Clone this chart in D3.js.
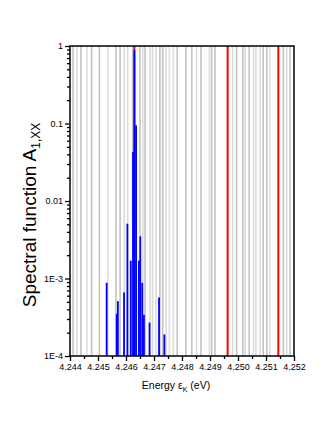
<!DOCTYPE html>
<html>
<head>
<meta charset="utf-8">
<script src="https://cdn.jsdelivr.net/npm/d3@7"></script>
<style>
  body { margin: 0; background: #fff; }
  svg text { font-family: "Liberation Sans", Arial, sans-serif; }
</style>
</head>
<body>
<div id="chart"></div>
<script>
// eigenvalue positions (eV), drawn as vertical grey lines
var darkLevels = [4.24411, 4.24439, 4.24477, 4.24505, 4.24564, 4.24579, 4.24624, 4.24650,
  4.24668, 4.24721, 4.24731, 4.24783, 4.24814, 4.24835, 4.24868, 4.24906, 4.24918,
  4.24995, 4.25017, 4.25040, 4.25090, 4.25103, 4.25162, 4.25186];
var lightLevels = [4.24425, 4.24460, 4.24535, 4.24594, 4.24606, 4.24660, 4.24686, 4.24695,
  4.24707, 4.24743, 4.24755, 4.24769, 4.24852, 4.24898, 4.24981, 4.25025, 4.25055,
  4.25064, 4.25079, 4.25114, 4.25174];
// highlighted levels (red)
var redLevels = [4.24630, 4.24963, 4.25144];

// spectral function peaks
var peakEnergy = [4.24531, 4.24567, 4.24571, 4.24593, 4.24605, 4.24617, 4.24625, 4.24630,
  4.24636, 4.24646, 4.24651, 4.24658, 4.24664, 4.24684, 4.24718, 4.24737];
var peakValue = [8.8e-4, 3.5e-4, 5.1e-4, 6.6e-4, 5.1e-3, 1.7e-3, 0.043, 0.88,
  0.095, 1.7e-3, 3.5e-3, 8.8e-4, 3.4e-4, 2.7e-4, 5.7e-4, 1.9e-4];

var xTicks = [4.244, 4.245, 4.246, 4.247, 4.248, 4.249, 4.250, 4.251, 4.252];
var yTicks = [1e-4, 1e-3, 0.01, 0.1, 1];
var yTickLabels = ["1E-4", "1E-3", "0.01", "0.1", "1"];

var W = 332, H = 435;
var margin = {top: 46, right: 38, bottom: 79, left: 70},
    width = W - margin.left - margin.right,
    height = H - margin.top - margin.bottom;

var svg = d3.select("#chart")
  .append("svg")
    .attr("width", W)
    .attr("height", H)
  .append("g")
    .attr("transform", "translate(" + margin.left + "," + margin.top + ")");

var x = d3.scaleLinear().domain([4.244, 4.252]).range([0, width]);
var y = d3.scaleLog().domain([1e-4, 1]).range([height, 0]);

// grey level lines
svg.append("g").selectAll("line")
  .data(lightLevels)
  .enter().append("line")
    .attr("x1", function(d) { return x(d); })
    .attr("x2", function(d) { return x(d); })
    .attr("y1", 0).attr("y2", height)
    .style("stroke", "#dcdcdc")
    .style("stroke-width", 1.6);

svg.append("g").selectAll("line")
  .data(darkLevels)
  .enter().append("line")
    .attr("x1", function(d) { return x(d); })
    .attr("x2", function(d) { return x(d); })
    .attr("y1", 0).attr("y2", height)
    .style("stroke", "#c3c3c3")
    .style("stroke-width", 1.6);

svg.append("g").selectAll("line")
  .data(redLevels)
  .enter().append("line")
    .attr("x1", function(d) { return x(d); })
    .attr("x2", function(d) { return x(d); })
    .attr("y1", 0).attr("y2", height)
    .style("stroke", "#ff0000")
    .style("stroke-width", 2);

// blue peaks
var peaks = peakEnergy.map(function(e, i) { return {e: e, v: peakValue[i]}; });
svg.append("g").selectAll("rect")
  .data(peaks)
  .enter().append("rect")
    .attr("x", function(d) { return x(d.e) - 0.9; })
    .attr("width", 1.8)
    .attr("y", function(d) { return y(d.v); })
    .attr("height", function(d) { return height - y(d.v); })
    .style("fill", "#0000ff");

// frame
svg.append("rect")
  .attr("width", width).attr("height", height)
  .style("fill", "none")
  .style("stroke", "#000")
  .style("stroke-width", 1.5);

// x axis
var xMinor = d3.range(8).map(function(i) { return 4.2445 + i * 0.001; });
svg.append("g")
  .attr("transform", "translate(0," + height + ")")
  .call(d3.axisBottom(x).tickValues(xMinor).tickSize(3).tickFormat(""))
  .call(function(g) { g.select(".domain").remove(); });

var xAxis = svg.append("g")
  .attr("transform", "translate(0," + height + ")")
  .call(d3.axisBottom(x).tickValues(xTicks).tickSize(5).tickPadding(3).tickFormat(d3.format(".3f")));
xAxis.select(".domain").remove();
xAxis.selectAll("text").style("font-size", "9px").style("fill", "#000");
svg.selectAll(".tick line").style("stroke", "#000").style("stroke-width", 1.3);

// y axis
var yMinor = [];
[1e-4, 1e-3, 0.01, 0.1].forEach(function(b) {
  for (var k = 2; k < 10; k++) yMinor.push(b * k);
});
svg.append("g")
  .call(d3.axisLeft(y).tickValues(yMinor).tickSize(3).tickFormat(""))
  .call(function(g) { g.select(".domain").remove(); });

var yAxis = svg.append("g")
  .call(d3.axisLeft(y).tickValues(yTicks).tickSize(5).tickPadding(2)
    .tickFormat(function(d, i) { return yTickLabels[i]; }));
yAxis.select(".domain").remove();
yAxis.selectAll("text").style("font-size", "9px").style("fill", "#000");
svg.selectAll(".tick line").style("stroke", "#000").style("stroke-width", 1.3);

// x label
var xl = svg.append("text")
  .attr("x", width / 2 - 6)
  .attr("y", height + 33)
  .attr("text-anchor", "middle")
  .style("font-size", "10.5px");
xl.append("tspan").text("Energy \u03b5");
xl.append("tspan").attr("dy", 3).style("font-size", "7px").text("K");
xl.append("tspan").attr("dy", -3).text(" (eV)");

// y label
var yl = svg.append("text")
  .attr("transform", "rotate(-90)")
  .attr("x", -169)
  .attr("y", -margin.left + 36)
  .attr("text-anchor", "middle")
  .style("font-size", "19px");
yl.append("tspan").text("Spectral function A");
yl.append("tspan").attr("dy", 4).style("font-size", "12px").text("1,XX");
</script>
</body>
</html>
